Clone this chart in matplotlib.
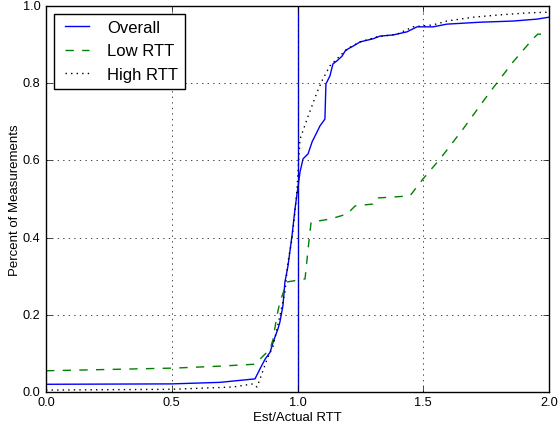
import matplotlib
matplotlib.use("Agg")
import matplotlib.pyplot as plt

plt.style.use("classic")
plt.rcParams["font.family"] = ["Liberation Sans", "DejaVu Sans"]

# Overall
overall_x = [0.0, 0.5, 0.692, 0.831, 0.851, 0.871, 0.891, 0.903, 0.922, 0.930, 0.942, 0.950,
             0.962, 0.978, 0.990, 1.01, 1.022, 1.042, 1.058, 1.078, 1.089, 1.109, 1.113,
             1.129, 1.141, 1.157, 1.177, 1.189, 1.201, 1.221, 1.249, 1.30, 1.328, 1.38,
             1.435, 1.475, 1.539, 1.594, 1.726, 1.857, 1.952, 2.0]
overall_y = [0.020, 0.021, 0.025, 0.034, 0.060, 0.085, 0.103, 0.129, 0.163, 0.181, 0.223, 0.285,
             0.326, 0.404, 0.474, 0.57, 0.604, 0.617, 0.648, 0.674, 0.689, 0.707, 0.798,
             0.819, 0.850, 0.858, 0.870, 0.883, 0.889, 0.896, 0.907, 0.915, 0.922, 0.925,
             0.933, 0.946, 0.946, 0.953, 0.958, 0.961, 0.966, 0.971]

# Low RTT
low_x = [0.0, 0.513, 0.692, 0.831, 0.863, 0.891, 0.903, 0.918, 0.930, 0.958, 1.03, 1.042,
         1.054, 1.129, 1.197, 1.229, 1.30, 1.315, 1.328, 1.447, 1.499, 1.567, 1.658, 1.765,
         1.857, 1.936, 1.955, 1.985]
low_y = [0.055, 0.062, 0.067, 0.072, 0.093, 0.111, 0.137, 0.197, 0.233, 0.285, 0.293, 0.370,
         0.440, 0.448, 0.461, 0.482, 0.487, 0.503, 0.503, 0.508, 0.552, 0.604, 0.681, 0.777,
         0.855, 0.915, 0.927, 0.927]

# High RTT
high_x = [0.0, 0.5, 0.744, 0.823, 0.839, 0.851, 0.879, 0.903, 0.930, 0.950, 0.962, 0.978,
          0.990, 0.998, 1.01, 1.038, 1.078, 1.101, 1.129, 1.157, 1.197, 1.249, 1.316, 1.396,
          1.459, 1.539, 1.594, 1.698, 1.805, 1.912, 2.0]
high_y = [0.005, 0.007, 0.013, 0.021, 0.013, 0.034, 0.085, 0.119, 0.197, 0.259, 0.337, 0.396,
          0.466, 0.526, 0.655, 0.707, 0.777, 0.811, 0.845, 0.863, 0.889, 0.907, 0.920, 0.927,
          0.946, 0.951, 0.961, 0.971, 0.977, 0.982, 0.984]

fig = plt.figure(figsize=(5.6, 4.31), dpi=100)
ax = fig.add_axes([46 / 560, 38 / 431, 503 / 560, 386 / 431])

ax.plot(overall_x, overall_y, "b-", lw=1.0, label="Overall")
ax.plot(low_x, low_y, "g--", lw=1.0, label="Low RTT")
ax.plot(high_x, high_y, "k:", lw=1.0, label="High RTT")
ax.axvline(1.0, color="b", lw=1.0)

ax.set_xlim(0, 2.0)
ax.set_ylim(0, 1.0)
ax.set_xticks([0.0, 0.5, 1.0, 1.5, 2.0])
ax.set_yticks([0.0, 0.2, 0.4, 0.6, 0.8, 1.0])
ax.tick_params(labelsize=9.2)
ax.tick_params(axis="x", pad=3)
ax.grid(True)
ax.set_xlabel("Est/Actual RTT", fontsize=9.5, labelpad=2)
ax.set_ylabel("Percent of Measurements", fontsize=9.5, labelpad=1)
ax.legend(loc="upper left", fontsize=12, borderaxespad=0.45)

fig.savefig("out.png", dpi=100)
